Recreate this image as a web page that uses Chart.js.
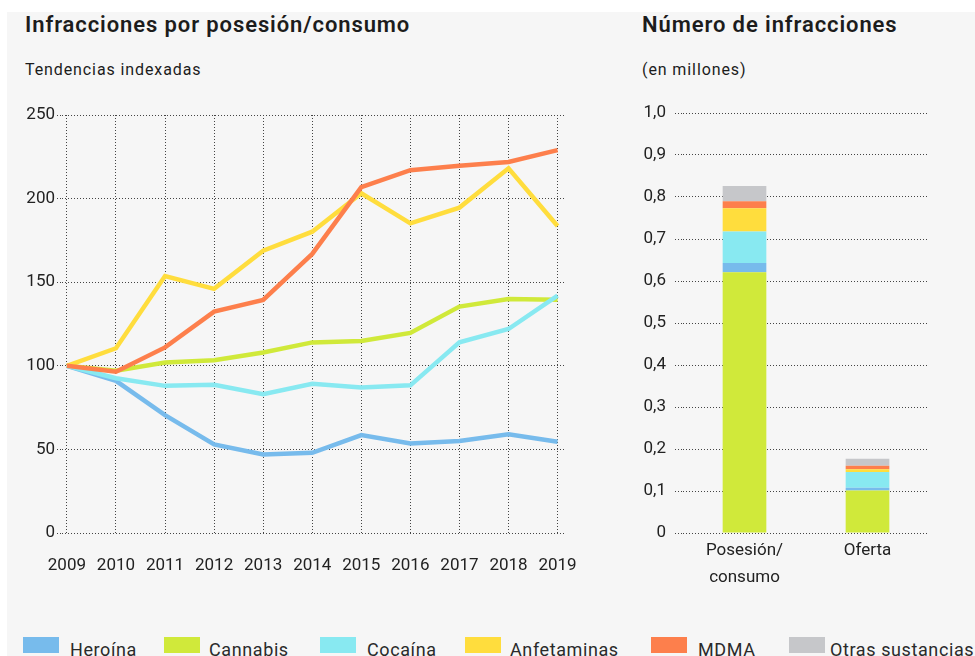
<!DOCTYPE html>
<html lang="es">
  <head>
    <meta charset="UTF-8" />
    <title>Infracciones por posesión/consumo</title>
    <script src="https://cdn.jsdelivr.net/npm/chart.js"></script>
    <style>
      body {
        margin: 0;
        width: 975px;
        height: 656px;
        overflow: hidden;
        background: #fff;
        font-family: Roboto, Arial, sans-serif;
        color: #1c1c1c;
        position: relative;
      }
      .panel {
        position: absolute;
        left: 7px;
        top: 12px;
        right: 0;
        bottom: 0;
        background: #f6f6f6;
      }
      .title {
        position: absolute;
        font-size: 22px;
        font-weight: 600;
        line-height: 26px;
        letter-spacing: 0.9px;
        white-space: nowrap;
      }
      .sub {
        position: absolute;
        font-size: 16px;
        line-height: 20px;
        letter-spacing: 0.9px;
        white-space: nowrap;
      }
      .box {
        position: absolute;
        top: 637px;
        width: 36px;
        height: 16px;
      }
      .lab {
        position: absolute;
        top: 640px;
        font-size: 18px;
        line-height: 20px;
        letter-spacing: 0.6px;
        white-space: nowrap;
        color: #2a2a2a;
      }
      canvas {
        position: absolute;
      }
    </style>
  </head>
  <body>
    <div class="panel"></div>
    <div class="title" style="left: 25px; top: 12px">Infracciones por posesión/consumo</div>
    <div class="sub" style="left: 25px; top: 60px">Tendencias indexadas</div>
    <div class="title" style="left: 642px; top: 12px">Número de infracciones</div>
    <div class="sub" style="left: 642px; top: 60px">(en millones)</div>

    <div style="position: absolute; left: 0; top: 100px; width: 600px; height: 490px">
      <canvas id="trendChart"></canvas>
    </div>
    <div style="position: absolute; left: 600px; top: 100px; width: 375px; height: 490px">
      <canvas id="countChart"></canvas>
    </div>
    <div id="legend"></div>

    <script>
      const years = [2009, 2010, 2011, 2012, 2013, 2014, 2015, 2016, 2017, 2018, 2019];
      const substances = ["Heroína", "Cannabis", "Cocaína", "Anfetaminas", "MDMA", "Otras sustancias"];
      const colors = ["#77bbec", "#d0e93a", "#88e9f1", "#ffdd3d", "#fd7f4c", "#c6c7ca"];

      // indexed trends, 2009 = 100
      const heroina = [100, 91, 70.5, 53, 47, 48, 58.6, 53.6, 55, 59, 54.6];
      const cannabis = [100, 97, 102, 103.3, 108, 114, 114.8, 119.7, 135.4, 140, 139.5];
      const cocaina = [100, 92.6, 88, 88.7, 83, 89.3, 87, 88.3, 114, 122, 142];
      const anfetaminas = [100, 110.5, 153.7, 146, 168.8, 180.2, 203.2, 185.2, 194.6, 218.1, 183.6];
      const mdma = [100, 96.5, 111, 132.4, 139.4, 166.9, 206.8, 217, 219.7, 221.9, 229];
      const trendTicks = [0, 50, 100, 150, 200, 250];

      // offences in millions: [posesión/consumo, oferta]
      const offenceGroups = [["Posesión/", "consumo"], "Oferta"];
      const cntHeroina = [0.022, 0.007];
      const cntCannabis = [0.621, 0.101];
      const cntCocaina = [0.075, 0.037];
      const cntAnfetaminas = [0.055, 0.007];
      const cntMdma = [0.017, 0.008];
      const cntOtras = [0.036, 0.017];

      const tickFont = { family: "Roboto, Arial, sans-serif", size: 17 };
      const dotted = { display: false, dash: [1, 2] };
      const gridOpts = {
        color: "#444",
        lineWidth: 1,
        tickBorderDash: [1, 2],
        tickColor: "#444",
      };

      const trendSeries = [heroina, cannabis, cocaina, anfetaminas, mdma];
      new Chart(document.getElementById("trendChart"), {
        type: "line",
        data: {
          datasets: trendSeries.map((vals, i) => ({
            label: substances[i],
            data: years.map((y, j) => ({ x: y, y: vals[j] })),
            borderColor: colors[i],
            borderWidth: 4.5,
            pointRadius: 0,
            tension: 0,
            order: 5 - i,
          })),
        },
        options: {
          responsive: true,
          maintainAspectRatio: false,
          animation: false,
          layout: { padding: { top: 15, right: 22, left: 0, bottom: 0 } },
          plugins: { legend: { display: false }, tooltip: { enabled: false } },
          scales: {
            x: {
              type: "linear",
              min: 2008.9,
              max: 2019.15,
              afterBuildTicks: (s) => {
                s.ticks = years.map((v) => ({ value: v }));
              },
              afterFit: (s) => {
                s.height = 57;
              },
              border: dotted,
              grid: { ...gridOpts, drawTicks: false },
              ticks: {
                font: tickFont,
                color: "#222",
                padding: 23,
                autoSkip: false,
                maxRotation: 0,
                callback: (v) => String(v),
              },
            },
            y: {
              min: 0,
              max: 250,
              afterBuildTicks: (s) => {
                s.ticks = trendTicks.map((v) => ({ value: v }));
              },
              afterFit: (s) => {
                s.width = 62;
              },
              border: dotted,
              grid: { ...gridOpts, drawTicks: true, tickLength: 5 },
              ticks: { font: tickFont, color: "#222", padding: 2 },
            },
          },
        },
      });

      const counts = [cntHeroina, cntCannabis, cntCocaina, cntAnfetaminas, cntMdma, cntOtras];
      const stackOrder = [1, 0, 2, 3, 4, 5];
      new Chart(document.getElementById("countChart"), {
        type: "bar",
        data: {
          labels: offenceGroups,
          datasets: stackOrder.map((i) => ({
            label: substances[i],
            data: counts[i],
            backgroundColor: colors[i],
            barPercentage: 0.355,
            categoryPercentage: 1,
          })),
        },
        options: {
          responsive: true,
          maintainAspectRatio: false,
          animation: false,
          layout: { padding: { top: 13, right: 46, left: 0, bottom: 0 } },
          plugins: { legend: { display: false }, tooltip: { enabled: false } },
          scales: {
            x: {
              stacked: true,
              afterFit: (s) => {
                s.height = 57;
              },
              border: { display: false },
              grid: { display: false, drawTicks: false },
              ticks: {
                font: { ...tickFont, lineHeight: 1.6 },
                color: "#222",
                padding: 4,
                maxRotation: 0,
              },
            },
            y: {
              stacked: true,
              min: 0,
              max: 1,
              ticks: {
                stepSize: 0.1,
                font: tickFont,
                color: "#222",
                padding: 9,
                callback: (v) => (v === 0 ? "0" : v.toFixed(1).replace(".", ",")),
              },
              afterFit: (s) => {
                s.width = 83;
                // keep the label padding from pushing the plot area down
                s.paddingTop = 10;
                s.paddingBottom = 10;
              },
              border: dotted,
              grid: { ...gridOpts, drawTicks: true, tickLength: 8 },
            },
          },
        },
      });

      // legend along the bottom, cut off at the right edge like the original
      const boxX = [23, 164, 320, 465, 651, 789];
      const textX = [70, 209, 367, 510, 698, 830];
      const legend = document.getElementById("legend");
      substances.forEach((name, i) => {
        const b = document.createElement("div");
        b.className = "box";
        b.style.left = boxX[i] + "px";
        b.style.background = colors[i];
        legend.appendChild(b);
        const t = document.createElement("div");
        t.className = "lab";
        t.style.left = textX[i] + "px";
        t.textContent = name;
        legend.appendChild(t);
      });
    </script>
  </body>
</html>
